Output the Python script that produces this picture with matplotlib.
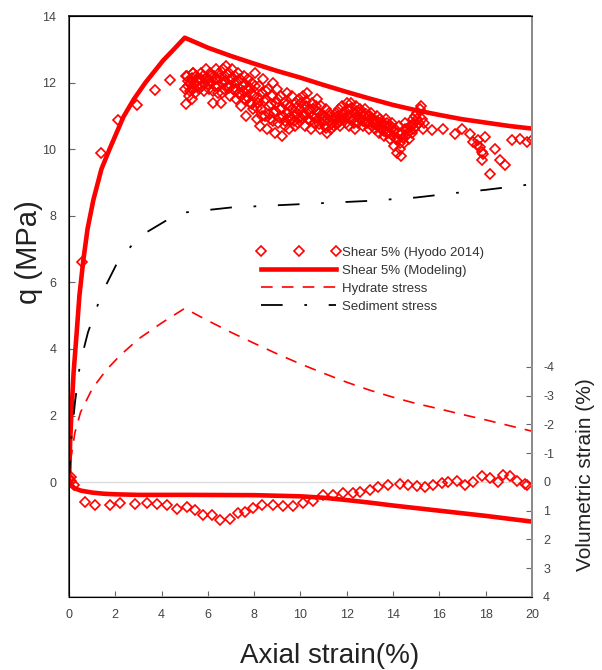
import matplotlib.pyplot as plt

plt.rcParams['font.family'] = ['Liberation Sans', 'DejaVu Sans']
plt.rcParams['axes.unicode_minus'] = False

# q (MPa) vs axial strain (%)
model_x = [0, 0.05, 0.1, 0.2, 0.33, 0.45, 0.62, 0.8, 1.05, 1.4, 1.75, 2.35, 2.8, 3.3, 4.07, 4.5, 5.0,
           6, 7, 8, 9, 10, 11, 12, 13, 14, 15, 16, 17, 18, 19, 20]
model_q = [0, 1.2, 2.0, 3.3, 4.47, 5.6, 6.67, 7.6, 8.47, 9.4, 10.0, 10.97, 11.5, 12.0, 12.67, 12.98, 13.35,
           13.05, 12.8, 12.57, 12.35, 12.15, 11.93, 11.72, 11.52, 11.33, 11.17, 11.03, 10.9, 10.8, 10.7, 10.62]

hyd_x = [0, 0.1, 0.26, 0.5, 1.0, 1.6, 2.2, 3.0, 4.0, 5.0,
         6, 7, 8, 9, 10, 11, 12, 13, 14, 15, 16, 17, 18, 19, 20]
hyd_q = [0, 0.8, 1.5, 2.1, 2.8, 3.36, 3.8, 4.3, 4.78, 5.22,
         4.85, 4.5, 4.17, 3.85, 3.55, 3.27, 3.0, 2.76, 2.55, 2.36, 2.2, 2.03, 1.87, 1.7, 1.53]

sed_x = [0, 0.1, 0.26, 0.48, 0.82, 1.42, 2.07, 3.0, 4.3, 5.0, 7, 10, 13, 15, 16.6, 18, 20]
sed_q = [0, 1.3, 2.4, 3.57, 4.5, 5.67, 6.57, 7.36, 7.9, 8.1, 8.25, 8.35, 8.45, 8.55, 8.68, 8.78, 8.95]

exp_x = [0.1, 0.55, 1.38, 2.1, 2.92, 3.71, 4.36, 5.04, 5.37, 5.04, 5.3,
         5.1, 5.15, 5.2, 5.25, 5.3, 5.35, 5.4, 5.45, 5.5, 5.55, 5.6, 5.7, 5.75, 5.8, 5.85, 5.9,
         6.0, 6.05, 6.1, 6.15, 6.2, 6.25, 6.3, 6.35, 6.4, 6.45, 6.5, 6.55, 6.6, 6.65, 6.7, 6.75,
         6.8, 6.85, 6.9, 6.95, 7.0, 7.05, 7.1, 7.15, 7.2, 7.25, 7.3, 7.35, 7.4, 7.45, 7.5, 7.55,
         7.6, 7.65, 7.7, 7.75, 7.8, 7.85, 7.9, 7.95, 8.0, 8.05, 8.1, 8.15, 8.2, 8.25, 8.3, 8.35,
         8.4, 8.45, 8.5, 8.55, 8.6, 8.65, 8.7, 8.75, 8.8, 8.85, 8.9, 8.95, 9.0, 9.05, 9.1, 9.15,
         9.2, 9.25, 9.3, 9.35, 9.4, 9.45, 9.5, 9.55, 9.6, 9.65, 9.7, 9.75, 9.8, 9.85, 9.9, 9.95,
         10.0, 10.05, 10.1, 10.15, 10.2, 10.25, 10.3, 10.35, 10.4, 10.45, 10.5, 10.55, 10.6, 10.65,
         10.7, 10.75, 10.8, 10.85, 10.9, 10.95, 11.0, 11.05, 11.1, 11.15, 11.2, 11.25, 11.3, 11.35,
         11.4, 11.45, 11.5, 11.55, 11.6, 11.65, 11.7, 11.75, 11.8, 11.85, 11.9, 11.95, 12.0, 12.05,
         12.1, 12.15, 12.2, 12.25, 12.3, 12.35, 12.4, 12.45, 12.5, 12.55, 12.6, 12.65, 12.7, 12.75,
         12.8, 12.85, 12.9, 12.95, 13.0, 13.05, 13.1, 13.15, 13.2, 13.25, 13.3, 13.35, 13.4, 13.45,
         13.5, 13.55, 13.6, 13.65, 13.7, 13.75, 13.8, 13.85, 13.9, 13.95, 14.0, 14.05, 14.1, 14.15,
         14.2, 14.25, 14.3, 14.35, 14.4, 14.45, 14.5, 14.55, 14.6, 14.7, 14.75, 14.8, 14.85, 14.9,
         14.95, 15.0, 15.05, 15.1, 15.15, 15.2, 15.25, 15.3, 15.35,
         15.67, 16.17, 16.67, 16.96, 17.32, 17.47, 17.61, 17.68, 17.75, 17.83, 17.83, 17.9, 17.97,
         18.19, 18.4, 18.62, 18.83, 19.12, 19.48, 19.77, 19.99]
exp_q = [0.16, 6.62, 9.88, 10.89, 11.34, 11.77, 12.07, 12.19, 12.28, 11.37, 11.52,
         12.2, 11.9, 11.6, 12.0, 11.8, 12.3, 12.0, 11.7, 12.2, 11.9, 12.1, 12.3, 11.9, 12.2, 12.0, 12.4,
         12.1, 11.8, 12.3, 12.0, 11.4, 12.2, 11.9, 12.4, 12.1, 11.7, 12.3, 11.4, 12.0, 12.4, 11.8, 12.2,
         12.5, 11.9, 12.3, 11.6, 12.1, 12.4, 11.8, 12.2, 11.5, 12.0, 12.3, 11.7, 12.1, 11.3, 11.9, 12.2,
         11.5, 11.0, 11.8, 12.1, 11.4, 11.7, 12.0, 11.2, 11.6, 12.3, 10.9, 11.4, 11.9, 10.7, 11.2, 11.7,
         12.1, 11.0, 11.5, 10.6, 11.8, 11.3, 10.9, 11.6, 12.0, 11.1, 10.5, 11.4, 11.8, 10.8, 11.2, 11.6,
         10.4, 11.0, 11.4, 10.7, 11.7, 11.1, 10.6, 11.3, 10.9, 11.6, 11.0, 10.7, 11.4, 11.1, 10.8, 11.5,
         11.2, 10.9, 11.6, 11.0, 10.7, 11.3, 11.7, 10.9, 11.2, 10.6, 11.4, 11.0, 10.8, 11.3,
         11.5, 10.9, 11.1, 10.6, 11.3, 10.9, 11.0, 10.7, 11.2, 10.5, 10.9, 11.1, 10.6, 10.8,
         11.0, 10.7, 10.9, 11.1, 10.8, 11.2, 10.7, 11.0, 11.3, 10.9, 11.1, 10.8, 11.4, 11.0,
         10.7, 11.2, 11.4, 10.9, 11.1, 10.6, 11.3, 11.0, 10.8, 11.2, 10.9, 11.1, 10.7, 11.0,
         11.2, 10.8, 11.0, 10.6, 10.9, 11.1, 10.7, 10.9, 10.6, 10.8, 11.0, 10.7, 10.5, 10.9,
         10.6, 10.8, 10.4, 10.7, 10.9, 10.5, 10.7, 10.3, 10.6, 10.8, 10.4, 10.1, 10.6, 9.9,
         10.3, 10.7, 10.0, 9.8, 10.5, 10.2, 10.8, 10.4, 10.6, 10.3, 10.7, 10.5, 10.9, 10.6,
         11.0, 10.7, 11.1, 10.8, 11.2, 11.3, 10.9, 10.6, 10.8,
         10.57, 10.62, 10.47, 10.62, 10.47, 10.22, 10.12, 10.27, 10.07, 9.92, 9.67, 9.87, 10.37,
         9.27, 10.02, 9.67, 9.52, 10.27, 10.32, 10.22, 10.27]

# more test points inside the dense band
band_x = [5.02, 5.12, 5.22, 5.32, 5.42, 5.52, 5.62, 5.72, 5.82, 5.92, 6.02, 6.12, 6.22, 6.32, 6.42,
          6.52, 6.62, 6.72, 6.82, 6.92, 7.02, 7.12, 7.22, 7.32, 7.42, 7.52, 7.62, 7.72, 7.82, 7.92,
          8.02, 8.12, 8.22, 8.32, 8.42, 8.52, 8.62, 8.72, 8.82, 8.92, 9.02, 9.12, 9.22, 9.32, 9.42,
          9.52, 9.62, 9.72, 9.82, 9.92, 10.02, 10.12, 10.22, 10.32, 10.42, 10.52, 10.62, 10.72, 10.82,
          10.92, 11.02, 11.12, 11.22, 11.32, 11.42, 11.52, 11.62, 11.72, 11.82, 11.92, 12.02, 12.12,
          12.22, 12.32, 12.42, 12.52, 12.62, 12.72, 12.82, 12.92, 13.02, 13.12, 13.22, 13.32, 13.42,
          13.52, 13.62, 13.72, 13.82, 13.92, 14.02, 14.12, 14.22, 14.32, 14.42, 14.52, 14.62, 14.72,
          14.82, 14.92, 15.02]
band_q = [11.8, 12.05, 11.75, 12.15, 11.85, 12.05, 11.8, 12.1, 11.75, 12.15, 11.95, 12.2, 11.75, 12.1, 11.9,
          12.15, 11.7, 12.05, 12.25, 11.85, 12.15, 12.0, 11.8, 12.05, 11.6, 11.75, 11.95, 11.55, 11.85, 11.35,
          11.9, 11.25, 11.55, 11.0, 11.45, 11.75, 11.05, 11.35, 10.85, 11.15, 11.5, 10.95, 11.25, 10.85, 11.35,
          10.95, 11.2, 10.85, 11.25, 10.95, 11.4, 11.05, 11.45, 11.15, 10.85, 11.2, 10.95, 11.15, 10.75,
          11.05, 10.85, 10.65, 11.0, 10.75, 10.9, 10.75, 11.0, 10.85, 11.1, 10.95, 11.2, 10.9,
          11.25, 10.8, 11.15, 10.95, 11.05, 10.85, 11.05, 10.8, 11.0, 10.8, 10.75, 10.85, 10.65,
          10.75, 10.55, 10.8, 10.5, 10.7, 10.55, 10.3, 10.5, 10.2, 10.35, 10.6, 10.45, 10.55,
          10.7, 10.8, 10.9]

# volumetric strain (%) vs axial strain (%)
vol_model_x = [0, 0.1, 0.25, 0.5, 1, 1.5, 2, 3, 5, 8, 10, 11, 12, 13, 14, 15, 16, 17, 18, 19, 20]
vol_model = [0, 0.12, 0.22, 0.3, 0.37, 0.41, 0.43, 0.45, 0.45, 0.46, 0.5, 0.55, 0.63, 0.72, 0.82,
             0.91, 1.0, 1.09, 1.18, 1.28, 1.38]

vol_exp_x = [0.02, 0.1, 0.2, 0.69, 1.12, 1.77, 2.2, 2.85, 3.35, 3.79, 4.22, 4.65, 5.08, 5.44, 5.8,
             6.16, 6.52, 6.95, 7.31, 7.6, 7.96, 8.32, 8.83, 9.26, 9.69, 10.12, 10.55, 10.99, 11.42,
             11.85, 12.28, 12.57, 13.0, 13.36, 13.79, 14.3, 14.66, 15.02, 15.38, 15.74, 16.1, 16.39,
             16.75, 17.1, 17.47, 17.83, 18.19, 18.55, 18.76, 19.05, 19.34, 19.7, 19.8]
vol_exp = [-0.15, -0.05, 0.1, 0.71, 0.8, 0.8, 0.74, 0.77, 0.74, 0.78, 0.8, 0.95, 0.88, 0.97, 1.15,
           1.15, 1.32, 1.3, 1.09, 1.03, 0.92, 0.8, 0.8, 0.84, 0.84, 0.74, 0.68, 0.45, 0.45,
           0.39, 0.39, 0.34, 0.28, 0.16, 0.1, 0.07, 0.1, 0.14, 0.19, 0.1, 0.02, -0.01,
           -0.05, 0.1, -0.01, -0.21, -0.13, -0.01, -0.24, -0.19, -0.05, 0.07, 0.12]

fig = plt.figure(figsize=(6.02, 6.70), dpi=100)
ax = fig.add_axes([0.1146, 0.109, 0.7691, 0.867])

red = '#ff0000'
dia = dict(linestyle='none', marker='D', ms=5.3, mfc='none', mec=red, mew=1.2)
ax.axhline(0, color='#dddddd', lw=1, zorder=0)
ax.plot(band_x, band_q, **dia)
ax.plot(exp_x, exp_q, label='Shear 5% (Hyodo 2014)', **dia)
ax.plot(model_x, model_q, color=red, lw=3.3, label='Shear 5% (Modeling)')
ax.plot(hyd_x, hyd_q, color=red, lw=1.2, dashes=(7, 5.5), label='Hydrate stress')
ax.plot(sed_x, sed_q, color='black', lw=1.3, dashes=(12, 12, 1.5, 12), label='Sediment stress')

ax.set_xlim(0, 20)
ax.set_ylim(-3.45, 14)
ax.set_xticks(range(0, 21, 2))
ax.set_yticks(range(0, 15, 2))
ax.tick_params(direction='in', length=4, labelsize=9, labelcolor='#444444', color='#666666')
ax.tick_params(axis='x', pad=9)
ax.tick_params(axis='y', pad=9)
ax.spines['left'].set_color('#555555')
ax.spines['bottom'].set_color('#aaaaaa')
ax.spines['top'].set_color('#222222')
for s in ax.spines.values():
    s.set_linewidth(1.3)

ax.set_xlabel('Axial strain(%)', fontsize=20, color='#222222')
ax.xaxis.set_label_coords(0.564, -0.08)
ax.set_ylabel('q (MPa)', fontsize=21, color='#222222')
ax.yaxis.set_label_coords(-0.056, 0.594)

ax2 = ax.twinx()
ax2.plot(vol_exp_x, vol_exp, **dia)
ax2.plot(vol_model_x, vol_model, color=red, lw=3.3)
ax2.set_ylim(4, -16.2)
ax2.set_yticks(range(-4, 5))
ax2.tick_params(direction='in', length=4, labelsize=9, labelcolor='#444444', color='#666666', pad=8)
ax2.spines['right'].set_color('#999999')
ax2.spines['right'].set_linewidth(1.3)
ax2.set_ylabel('Volumetric strain (%)', fontsize=15, color='#222222', rotation=90)
ax2.yaxis.set_label_coords(1.095, 0.21)

ax.legend(loc='upper left', bbox_to_anchor=(0.392, 0.615), frameon=False, fontsize=9.5,
          numpoints=3, handlelength=6.3, handletextpad=0.1, labelspacing=0.45, borderpad=0,
          labelcolor='#333333')

fig.savefig('out.png', dpi=100)
